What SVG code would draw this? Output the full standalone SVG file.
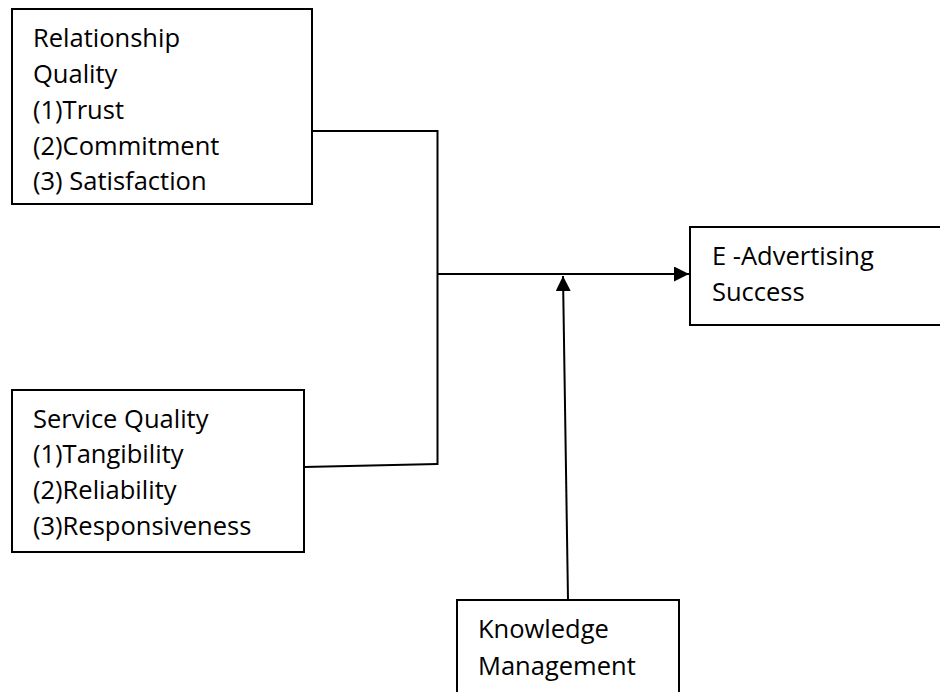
<svg xmlns="http://www.w3.org/2000/svg" width="940" height="692" viewBox="0 0 940 692">
  <style>
    .box { fill: #ffffff; stroke: #000000; stroke-width: 2; }
    .lbl { font-family: "Open Sans", "Liberation Sans", sans-serif; font-size: 25.5px; fill: #000000; }
    .wire { fill: none; stroke: #000000; stroke-width: 2; }
  </style>
  <defs>
    <marker id="arrow" viewBox="0 0 10 10" refX="10" refY="5" markerWidth="15" markerHeight="15" markerUnits="userSpaceOnUse" orient="auto">
      <path d="M0,0 L10,5 L0,10 Z" fill="#000000"/>
    </marker>
  </defs>

  <g id="connectors">
    <!-- relationship quality into the junction -->
    <polyline class="wire" points="312,131 437.5,131 437.5,465"/>
    <!-- service quality into the junction -->
    <polyline class="wire" points="304,467 437.5,464"/>
    <!-- junction to outcome -->
    <line class="wire" x1="437.5" y1="274" x2="689" y2="274" stroke-width="2.5" marker-end="url(#arrow)"/>
    <!-- moderator arrow -->
    <line class="wire" x1="568" y1="600" x2="563" y2="276" marker-end="url(#arrow)"/>
  </g>

  <g id="relationship-quality">
    <rect class="box" x="12" y="9" width="300" height="195"/>
    <text class="lbl" x="33" y="47">Relationship</text>
    <text class="lbl" x="33" y="83">Quality</text>
    <text class="lbl" x="33" y="119">(1)Trust</text>
    <text class="lbl" x="33" y="155">(2)Commitment</text>
    <text class="lbl" x="33" y="190">(3) Satisfaction</text>
  </g>

  <g id="service-quality">
    <rect class="box" x="12" y="390" width="292" height="162"/>
    <text class="lbl" x="33" y="428">Service Quality</text>
    <text class="lbl" x="33" y="463">(1)Tangibility</text>
    <text class="lbl" x="33" y="499">(2)Reliability</text>
    <text class="lbl" x="33" y="535">(3)Responsiveness</text>
  </g>

  <g id="e-advertising-success">
    <rect class="box" x="690" y="227" width="260" height="98"/>
    <text class="lbl" x="712" y="265">E -Advertising</text>
    <text class="lbl" x="712" y="301">Success</text>
  </g>

  <g id="knowledge-management">
    <rect class="box" x="457" y="600" width="222" height="100"/>
    <text class="lbl" x="478" y="638">Knowledge</text>
    <text class="lbl" x="478" y="675">Management</text>
  </g>
</svg>
